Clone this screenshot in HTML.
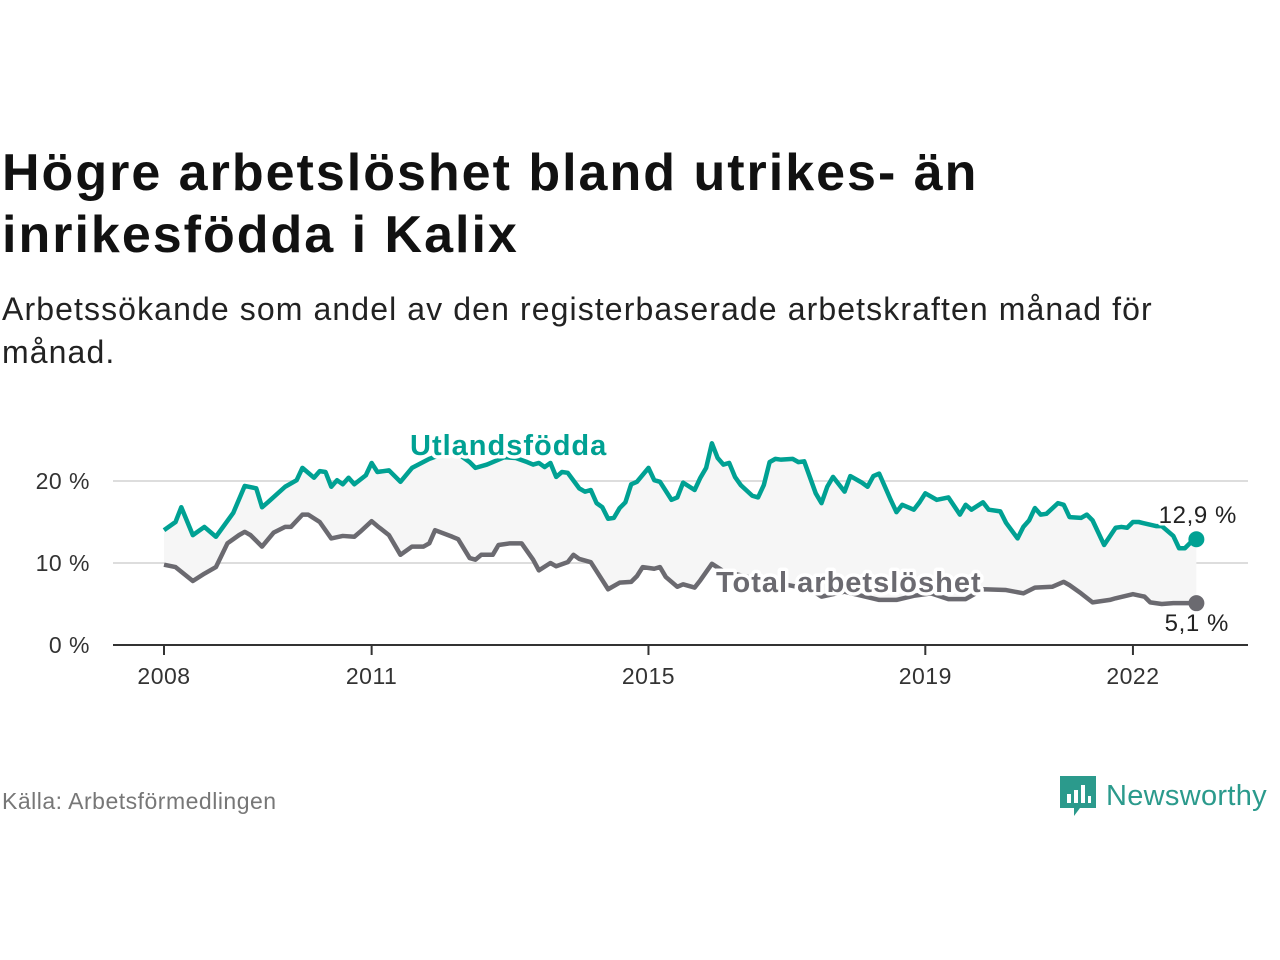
<!DOCTYPE html>
<html><head><meta charset="utf-8"><style>
body{margin:0;width:1280px;height:960px;background:#fff;font-family:"Liberation Sans",sans-serif;position:relative;overflow:hidden}
h1{position:absolute;left:2px;top:142px;margin:0;font-size:52px;line-height:62px;font-weight:bold;color:#111;letter-spacing:2px}
.sub{position:absolute;left:2px;top:288px;font-size:32px;line-height:43px;color:#222;letter-spacing:1.1px}
.src{position:absolute;left:2px;top:788px;font-size:23px;color:#777;letter-spacing:0.5px}
.logo{position:absolute;left:1058px;top:774px;display:flex;align-items:center}
.logo span{font-size:29px;color:#2b9a8c;margin-left:8px;letter-spacing:0.3px}
</style></head><body>
<h1>Högre arbetslöshet bland utrikes- än<br>inrikesfödda i Kalix</h1>
<div class="sub">Arbetssökande som andel av den registerbaserade arbetskraften månad för<br>månad.</div>
<svg id="chart" width="1280" height="960" style="position:absolute;left:0;top:0"></svg>
<div class="src">Källa: Arbetsförmedlingen</div>
<div class="logo">
<svg width="40" height="44" viewBox="0 0 40 44"><path d="M2 2h36v32H22l-6 8v-8H2z" fill="#2b9a8c"/><rect x="9" y="20" width="4" height="9" fill="#fff"/><rect x="16" y="16" width="4" height="13" fill="#fff"/><rect x="23" y="11" width="4" height="18" fill="#fff"/><rect x="30" y="22" width="3" height="7" fill="#fff"/></svg>
<span>Newsworthy</span></div>
<script>
const yearTicks=[2008,2011,2015,2019,2022];
const yTicks=[0,10,20];
const yTickLabels=["0 %","10 %","20 %"];
const foreignMonths=[0,2,3,5,7,9,12,14,16,17,18,21,23,24,26,27,28,29,30,31,32,33,35,36,37,39,41,43,46,48,50,53,54,56,59,61,63,64,65,66,67,68,69,70,72,73,74,75,76,77,78,79,80,81,82,84,85,86,88,89,90,92,93,94,95,96,97,98,99,100,102,103,104,105,106,107,109,110,111,113,114,115,116,118,119,121,122,123,124,126,127,128,130,131,132,134,136,138,139,140,142,143,145,146,148,149,150,151,152,153,155,156,157,159,160,161,163,165,166,167,168,169,172,173,175,176,177,179];
const foreignValues=[14.0,15.0,16.8,13.4,14.4,13.2,16.1,19.4,19.1,16.8,17.4,19.3,20.1,21.6,20.4,21.2,21.1,19.3,20.1,19.6,20.4,19.6,20.7,22.2,21.1,21.3,19.9,21.6,22.7,23.2,23.8,22.3,21.6,22.0,22.9,22.8,22.3,22.0,22.2,21.7,22.2,20.5,21.1,21.0,19.1,18.7,18.9,17.3,16.8,15.4,15.5,16.7,17.4,19.6,19.9,21.6,20.1,19.9,17.7,18.0,19.8,18.9,20.4,21.6,24.6,22.8,22.0,22.2,20.5,19.5,18.2,18.0,19.5,22.3,22.7,22.6,22.7,22.3,22.4,18.5,17.3,19.3,20.5,18.7,20.6,19.8,19.3,20.6,20.9,17.7,16.2,17.1,16.5,17.4,18.5,17.7,18.0,15.9,17.1,16.5,17.4,16.5,16.3,14.9,13.0,14.4,15.2,16.7,15.9,16.0,17.3,17.1,15.6,15.5,15.9,15.2,12.2,14.3,14.4,14.3,15.0,15.0,14.5,14.5,13.3,11.8,11.8,13.2,12.9];
const totalMonths=[0,2,5,7,9,11,13,14,15,17,19,21,22,24,25,27,29,31,33,34,36,37,39,41,43,45,46,47,50,51,53,54,55,57,58,60,62,64,65,67,68,70,71,72,74,76,77,79,81,82,83,85,86,87,89,90,92,93,95,97,100,103,106,109,112,114,118,121,124,127,130,133,136,139,142,146,149,151,154,156,157,159,161,164,165,168,170,171,173,175,179];
const totalValues=[9.8,9.5,7.8,8.7,9.5,12.4,13.4,13.8,13.4,12.0,13.7,14.4,14.4,15.9,15.9,15.0,13.0,13.3,13.2,13.8,15.1,14.5,13.4,11.0,12.0,12.0,12.4,14.0,13.2,12.9,10.6,10.4,11.0,11.0,12.2,12.4,12.4,10.4,9.1,10.0,9.6,10.1,11.0,10.5,10.1,7.9,6.8,7.6,7.7,8.4,9.5,9.3,9.5,8.3,7.1,7.4,7.0,7.9,9.9,9.0,8.5,8.0,7.6,7.2,6.8,5.9,6.5,6.0,5.5,5.5,6.0,6.3,5.6,5.6,6.8,6.7,6.3,7.0,7.1,7.7,7.3,6.3,5.2,5.5,5.7,6.2,5.9,5.2,5.0,5.1,5.1];
const NS="http://www.w3.org/2000/svg",svg=document.getElementById('chart');
const x0=164,pxYear=69.21,yBase=645,pxPct=8.2;
const xm=m=>x0+m/12*pxYear, xy=y=>x0+(y-2008)*pxYear, yv=v=>yBase-v*pxPct;
function mk(t,a,p){const e=document.createElementNS(NS,t);for(const k in a)e.setAttribute(k,a[k]);(p||svg).appendChild(e);return e;}
yTicks.forEach((v,i)=>{
 if(v>0){const g=mk('line',{x1:113,x2:1248,y1:yv(v),y2:yv(v),stroke:'#ddd','stroke-width':2});
 
 }
 const t=mk('text',{x:90,y:yv(v)+8,'text-anchor':'end','font-size':23,fill:'#333','letter-spacing':0.5});t.textContent=yTickLabels[i];
 
 
});
const topPts=foreignMonths.map((m,i)=>xm(m)+','+yv(foreignValues[i]));
const botPts=totalMonths.map((m,i)=>xm(m)+','+yv(totalValues[i])).reverse();
const area=mk('polygon',{points:topPts.concat(botPts).join(' '),fill:'#f6f6f6'});


const ax=mk('line',{x1:113,x2:1248,y1:yBase,y2:yBase,stroke:'#333','stroke-width':2});


yearTicks.forEach(y=>{
 const tk=mk('line',{x1:xy(y),x2:xy(y),y1:yBase,y2:yBase+10,stroke:'#333','stroke-width':2});
 
 
 const t=mk('text',{x:xy(y),y:yBase+39,'text-anchor':'middle','font-size':23,fill:'#333','letter-spacing':0.5});t.textContent=y;
 
 
});
function line(ms,vs,c,name){
 const p=mk('polyline',{points:ms.map((m,i)=>xm(m)+','+yv(vs[i])).join(' '),fill:'none',stroke:c,'stroke-width':4.5,'stroke-linejoin':'round'});
 
 
 const d=mk('circle',{cx:xm(ms[ms.length-1]),cy:yv(vs[vs.length-1]),r:8,fill:c});
 
 
}
line(totalMonths,totalValues,'#6b6a70','total-line');
line(foreignMonths,foreignValues,'#00a193','foreign-line');
function lab(txt,x,y,c,bold,name,anchor){
 const t=mk('text',{x:x,y:y,'font-size':bold?29:24,'font-weight':bold?'bold':'normal',fill:c,stroke:'#fff','stroke-width':bold?7:5,'paint-order':'stroke','stroke-linejoin':'round','text-anchor':anchor||'start','letter-spacing':bold?1:0.6});
 t.textContent=txt;
 
 
}
lab('Utlandsfödda',410,455,'#00a193',true,'foreign-series-label');
lab('Total arbetslöshet',716,592,'#6b6a70',true,'total-series-label');
lab(foreignValues[foreignValues.length-1].toFixed(1).replace('.',',')+' %',1237,523,'#222',false,'foreign-end-value','end');
lab(totalValues[totalValues.length-1].toFixed(1).replace('.',',')+' %',1229,631,'#222',false,'total-end-value','end');
</script>
</body></html>
